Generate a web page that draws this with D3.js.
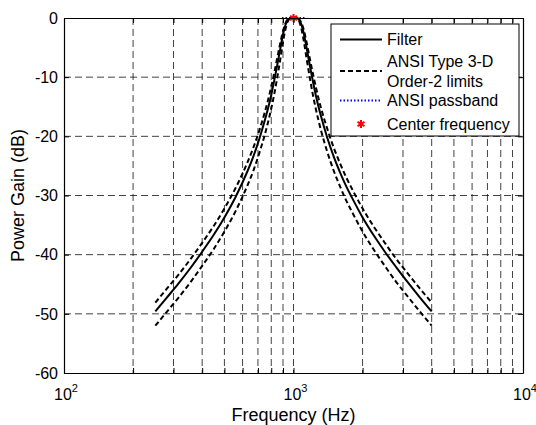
<!DOCTYPE html>
<html>
<head>
<meta charset="utf-8">
<script src="https://cdn.jsdelivr.net/npm/d3@7"></script>
<style>
  body { margin: 0; background: #fff; }
  text { font-family: "Liberation Sans", Arial, sans-serif; fill: #000; }
</style>
</head>
<body>
<div id="wrapper"></div>
<script>

// data
const freqHz = [250, 280, 315, 355, 400, 450, 500, 560, 630, 670, 710, 750, 800, 825, 850, 875, 900, 920, 940, 970,
  1000, 1030, 1060, 1085, 1110, 1140, 1180, 1215, 1250, 1320, 1400, 1500, 1600, 1700, 1800, 2000, 2250, 2500, 2800, 3150, 3550, 4000]
const filterDb = [-49.6, -47.3, -44.9, -42.3, -39.5, -36.6, -33.7, -30.2, -25.9, -23.3, -20.4, -17.3, -13.0, -10.5, -7.9, -5.3, -2.8, -1.3, -0.45, -0.03,
  0, -0.02, -0.35, -1.2, -2.7, -5.0, -8.2, -10.7, -13.0, -16.7, -20.1, -23.5, -26.2, -28.5, -30.4, -33.7, -36.9, -39.5, -42.1, -44.7, -47.2, -49.6]
const upperDb = [-48.1, -45.8, -43.4, -40.8, -38.0, -35.1, -32.2, -28.7, -24.4, -21.8, -19.0, -15.9, -11.6, -9.2, -6.7, -4.3, -2.2, -1.0, -0.3, -0.02,
  0, -0.02, -0.25, -0.9, -2.1, -4.1, -7.0, -9.4, -11.6, -15.3, -18.6, -22.0, -24.7, -27.0, -28.9, -32.2, -35.4, -38.0, -40.7, -43.2, -45.7, -48.1]
const lowerDb = [-52.0, -49.7, -47.3, -44.7, -41.9, -39.0, -36.1, -32.6, -28.3, -25.7, -22.8, -19.7, -15.3, -12.8, -10.0, -7.1, -4.1, -2.1, -0.75, -0.05,
  0, -0.04, -0.6, -2.0, -4.0, -6.8, -10.3, -13.0, -15.3, -19.1, -22.5, -25.9, -28.6, -30.9, -32.8, -36.1, -39.3, -41.9, -44.6, -47.1, -49.6, -52.0]
const passbandHz = [891, 1122]
const passbandDb = [0, 0]
const centerHz = 1000
const centerDb = 0

const xMajorTicks = [100, 1000, 10000]
const xMajorLabels = ["2", "3", "4"]   // exponents of 10
const xMinorTicks = [200, 300, 400, 500, 600, 700, 800, 900, 2000, 3000, 4000, 5000, 6000, 7000, 8000, 9000]
const yTicks = [-60, -50, -40, -30, -20, -10, 0]
const yGrid = [-50, -40, -30, -20, -10]

const legendLabels = [["Filter"], ["ANSI Type 3-D", "Order-2 limits"], ["ANSI passband"], ["Center frequency"]]


// dimensions and framing
let dimensions = {
  width: 536,
  height: 425,
  margin: { top: 18, right: 13, bottom: 52, left: 64 },
}
dimensions.boundedWidth = dimensions.width - dimensions.margin.left - dimensions.margin.right
dimensions.boundedHeight = dimensions.height - dimensions.margin.top - dimensions.margin.bottom

const svg = d3.select("#wrapper")
  .append("svg")
    .attr("width", dimensions.width)
    .attr("height", dimensions.height)

const bounds = svg.append("g")
    .attr("transform", `translate(${dimensions.margin.left},${dimensions.margin.top})`)


// scales
const xScale = d3.scaleLog()
  .domain([100, 10000])
  .range([0, dimensions.boundedWidth])

const yScale = d3.scaleLinear()
  .domain([-60, 0])
  .range([dimensions.boundedHeight, 0])


// grid
const gridStyle = g => g
  .attr("stroke", "#111")
  .attr("stroke-width", 0.8)
  .attr("stroke-dasharray", "7,4")

bounds.append("g")
  .selectAll("line")
  .data([...xMinorTicks, 1000])
  .join("line")
    .attr("x1", d => xScale(d)).attr("x2", d => xScale(d))
    .attr("y1", 0).attr("y2", dimensions.boundedHeight)
    .call(gridStyle)

bounds.append("g")
  .selectAll("line")
  .data(yGrid)
  .join("line")
    .attr("x1", 0).attr("x2", dimensions.boundedWidth)
    .attr("y1", d => yScale(d)).attr("y2", d => yScale(d))
    .call(gridStyle)


// curves
bounds.append("clipPath").attr("id", "clip")
  .append("rect")
    .attr("x", 0).attr("y", -2)
    .attr("width", dimensions.boundedWidth)
    .attr("height", dimensions.boundedHeight + 2)

const lineGen = d3.line()
  .x(d => xScale(d[0]))
  .y(d => yScale(d[1]))
  .curve(d3.curveMonotoneX)

const curves = bounds.append("g").attr("clip-path", "url(#clip)")

curves.append("path")
    .attr("d", lineGen(d3.zip(freqHz, upperDb)))
    .attr("fill", "none").attr("stroke", "#000").attr("stroke-width", 2)
    .attr("stroke-dasharray", "5,3")
curves.append("path")
    .attr("d", lineGen(d3.zip(freqHz, lowerDb)))
    .attr("fill", "none").attr("stroke", "#000").attr("stroke-width", 2)
    .attr("stroke-dasharray", "5,3")
curves.append("path")
    .attr("d", lineGen(d3.zip(freqHz, filterDb)))
    .attr("fill", "none").attr("stroke", "#000").attr("stroke-width", 2)
curves.append("path")
    .attr("d", d3.line().x(d => xScale(d[0])).y(d => yScale(d[1]))(d3.zip(passbandHz, passbandDb)))
    .attr("fill", "none").attr("stroke", "#0000ff").attr("stroke-width", 2)
    .attr("stroke-dasharray", "1.5,2")

const star = d3.symbol().type(d3.symbolAsterisk).size(45)
bounds.append("path")
    .attr("d", star())
    .attr("transform", `translate(${xScale(centerHz)},${yScale(centerDb)})`)
    .attr("fill", "none").attr("stroke", "#ff0000").attr("stroke-width", 2)


// axes (ticks inward on all four sides)
const tickLen = 5
const xTicks = [...xMajorTicks, ...xMinorTicks]

bounds.append("g")
    .attr("transform", `translate(0,${dimensions.boundedHeight})`)
    .call(d3.axisBottom(xScale).tickValues(xTicks).tickSizeInner(-tickLen).tickSizeOuter(0).tickFormat(""))
bounds.append("g")
    .call(d3.axisTop(xScale).tickValues(xTicks).tickSizeInner(-tickLen).tickSizeOuter(0).tickFormat(""))
bounds.append("g")
    .call(d3.axisLeft(yScale).tickValues(yTicks).tickSizeInner(-tickLen).tickSizeOuter(0).tickFormat(""))
bounds.append("g")
    .attr("transform", `translate(${dimensions.boundedWidth},0)`)
    .call(d3.axisRight(yScale).tickValues(yTicks).tickSizeInner(-tickLen).tickSizeOuter(0).tickFormat(""))

bounds.selectAll(".domain").attr("stroke", "#000").attr("stroke-width", 1.2)
bounds.selectAll(".tick line").attr("stroke", "#000")

// y tick labels
bounds.append("g")
  .selectAll("text")
  .data(yTicks)
  .join("text")
    .attr("x", -6)
    .attr("y", d => yScale(d))
    .attr("dy", "0.36em")
    .attr("text-anchor", "end")
    .style("font-size", "16px")
    .text(d => d)

// x tick labels: 10 with superscript
const xLabels = bounds.append("g")
  .selectAll("text")
  .data(d3.zip(xMajorTicks, xMajorLabels))
  .join("text")
    .attr("x", d => xScale(d[0]) + 2)
    .attr("y", dimensions.boundedHeight + 27)
    .attr("text-anchor", "middle")
    .style("font-size", "16px")
xLabels.append("tspan").text("10")
xLabels.append("tspan")
    .attr("dy", -8)
    .style("font-size", "11px")
    .text(d => d[1])

// axis titles
svg.append("text")
    .attr("x", dimensions.margin.left + dimensions.boundedWidth / 2)
    .attr("y", 421)
    .attr("text-anchor", "middle")
    .style("font-size", "18px")
    .text("Frequency (Hz)")

svg.append("text")
    .attr("transform", `translate(24,${dimensions.margin.top + dimensions.boundedHeight / 2}) rotate(-90)`)
    .attr("text-anchor", "middle")
    .style("font-size", "18px")
    .text("Power Gain (dB)")


// legend
const legend = svg.append("g")
legend.append("rect")
    .attr("x", 331).attr("y", 24)
    .attr("width", 188).attr("height", 112)
    .attr("fill", "#fff").attr("stroke", "#000").attr("stroke-width", 1)

const sampleX1 = 340, sampleX2 = 382, textX = 387
const rowY = [39.5, 71, 100.5, 124]

legend.append("line")
    .attr("x1", sampleX1).attr("x2", sampleX2).attr("y1", rowY[0]).attr("y2", rowY[0])
    .attr("stroke", "#000").attr("stroke-width", 2)
legend.append("line")
    .attr("x1", sampleX1).attr("x2", sampleX2).attr("y1", rowY[1]).attr("y2", rowY[1])
    .attr("stroke", "#000").attr("stroke-width", 2).attr("stroke-dasharray", "5,3")
legend.append("line")
    .attr("x1", sampleX1).attr("x2", sampleX2).attr("y1", rowY[2]).attr("y2", rowY[2])
    .attr("stroke", "#0000ff").attr("stroke-width", 2).attr("stroke-dasharray", "1.5,2")
legend.append("path")
    .attr("d", star())
    .attr("transform", `translate(${(sampleX1 + sampleX2) / 2},${rowY[3]})`)
    .attr("fill", "none").attr("stroke", "#ff0000").attr("stroke-width", 2)

legendLabels.forEach((lines, i) => {
  lines.forEach((t, j) => {
    legend.append("text")
        .attr("x", textX)
        .attr("y", rowY[i] + (j - (lines.length - 1) / 2) * 19.5)
        .attr("dy", "0.36em")
        .style("font-size", "16px")
        .text(t)
  })
})

</script>
</body>
</html>
